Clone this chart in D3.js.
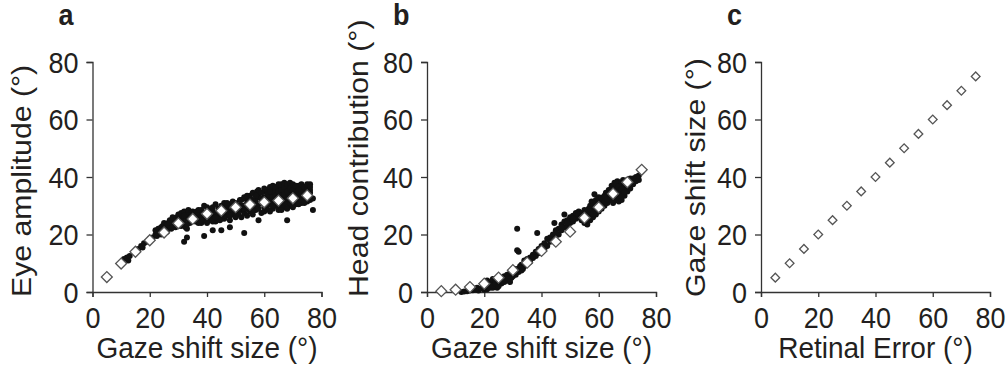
<!DOCTYPE html>
<html>
<head>
    <script src="https://d3js.org/d3.v7.min.js"></script>
    <style>
        body { margin: 0; background: #fff; }
        text { font-family: "Liberation Sans", Arial, sans-serif; fill: #231f20; }
    </style>
</head>

<body>
<div id="chart"></div>

<script>

    var width = 1007;
    var height = 368;

    var tickValues = [0, 20, 40, 60, 80];

    // panel a: eye amplitude vs gaze shift size
    var eyeDots = [
        [11,11.5],[12,12],[12.5,11],[13,12.5],[16,15],[17,16],[17.5,15.5],[18,17],[19,17.5],[20,18.5],
        [21,19],[22,20],[22,21.5],[22.5,19.5],[23,22],[23.5,21],[24,20],[24,22.5],[24.5,23],[25,21.5],[25,24],
        [26,21],[26,22.5],[26.5,24],[27,23],[27,25],[27.5,22],[28,24],[28,26],[28.5,25],[29,22.5],[29,23.5],[29.5,26],[30,24],[30,25.5],[30,27],
        [31,23],[31,25],[31,27.5],[31.5,26],[32,24],[32,28],[32,17.5],[32.5,22.5],[33,19],[33,22],[33,25.5],[33,27],[33.5,28.5],[34,24],[34,26],[34.5,27.5],[35,25],[35,28],
        [36,24.5],[36,26.5],[36.5,28],[37,25.5],[37,27],[38,24],[38,26],[38,28.5],[38.5,27],[39,19.5],[39,25],[39,30],[40,24],[40,26.5],[40,28],
        [41,25],[41,27],[41.5,29],[42,21.5],[42,26],[42,28],[43,24.5],[43,27.5],[43,30.5],[44,26],[44,29],[44.5,25],[45,21.5],[45,27],[45,30],
        [46,25.5],[46,28],[46,31],[47,26.5],[47,29.5],[48,22.5],[48,25],[48,28],[48,30.5],[49,27],[49,29.5],[50,26],[50,28.5],[50,31],
        [51,27],[51,30],[51.5,32],[52,26],[52,28.5],[53,20.5],[53,27.5],[53,30],[53.5,32.5],[54,26.5],[54,29],[55,28],[55,31],[55,33.5],
        [56,27],[56,30],[56,34.5],[57,28.5],[57,32],[57.5,35],[58,25],[58,29],[58,33],[58.5,34.5],[59,27.5],[59,31],[60,28],[60,30.5],[60,33],[60,35],
        [61,29],[61,32],[61,34.5],[62,28],[62,30.5],[62,33.5],[62.5,35.5],[63,29],[63,31.5],[63,34],[63.5,36],[64,30],[64,32.5],[64,35],[65,28.5],[65,31],[65,33.5],[65,36],
        [66,30],[66,32],[66,34.5],[66.5,36.5],[67,29.5],[67,33],[67,35.5],[67.5,37],[68,25],[68,31],[68,33.5],[68,36],[69,30],[69,32.5],[69,35],[69.5,37],[70,31],[70,34],[70,36.5],
        [71,30.5],[71,33],[71,35.5],[72,32],[72,34.5],[72,37],[73,31],[73,33.5],[73,36],[74,32.5],[74,35],[75,31.5],[75,34],[75,36.5],[76,33],[76,35.5],[76,37.5],[77,28.5],[77,32.5],
        [23,20.5],[25,22.5],[26,23.5],[27,24],[28,22.5],[29,25],[30,23],[31,24],[32,26.5],[33,23.5],[34,25],[35,26.5],[36,27.5],[37,24],[37,28.5],[38,25],[39,27.5],[40,25],[40,29.5],
        [41,26],[42,24.5],[42,29.5],[43,26],[44,27.5],[45,25.5],[45,28.5],[46,26.5],[46,29.5],[47,28],[47,31],[48,26.5],[49,28.5],[49,31.5],[50,27.5],[50,30],
        [51,28.5],[52,30],[52,32],[53,29],[53,33],[54,31],[54,33.5],[55,29.5],[55,32.5],[56,28.5],[56,32],[57,30],[57,33.5],[58,30.5],[58,35.5],[59,32.5],[59,34.5],[60,29.5],[60,36],
        [61,30.5],[61,33],[61,35.5],[62,32],[62,35],[62,36.5],[63,30],[63,33],[63,37],[64,31],[64,33.5],[64,36.5],[65,30],[65,32.5],[65,35],[65,37.5],
        [66,28.5],[66,31],[66,33.5],[66,35.5],[66,37.5],[67,31],[67,34],[67,36.5],[67,38],[68,29],[68,32.5],[68,35],[68,37.5],[69,31],[69,33.5],[69,36],[69,38],
        [70,29.5],[70,32.5],[70,35.5],[70,37.5],[71,32],[71,34.5],[71,37],[72,30.5],[72,33],[72,35.5],[73,32],[73,34.5],[73,37.5],[74,31],[74,34],[74,36.5],
        [75,33],[75,35.5],[75,37.5],[76,32],[76,34.5],[76,36.5]
    ];
    var eyeMeanX = [5, 10, 15, 20, 25, 30, 35, 40, 45, 50, 55, 60, 65, 70, 75];
    var eyeMeanY = [5.2, 9.9, 14, 18, 20.7, 23.9, 25.4, 27.2, 28.3, 29.5, 30.4, 31.2, 31.8, 32.6, 33.6];

    // panel b: head contribution vs gaze shift size
    var headDots = [
        [12,0],[13,0.2],[14,0.3],[15,0.5],[16,0.6],[17,0.8],[17.5,1.5],[18,0.5],[19,1.2],[19.5,2],[20,0.8],[20,2.5],
        [21,1],[21,2.5],[21,4],[21.5,3],[22,1.5],[22,3.5],[22.5,2],[23,1.5],[23,3],[23,4.5],[23.5,2.5],[24,2],[24,3.5],[24.5,1.5],[25,3],[25,4.5],
        [26,3],[26,5],[26.5,4],[27,3.5],[27,5.5],[28,4],[28,6],[28.5,5],[29,3.5],[29,6.5],[29.5,5],[30,5.5],[30,7.5],[30.5,6.5],
        [31,6],[31,8],[31.5,22],[31.5,14.5],[32,14],[32,7],[32.5,9],[33,7.5],[33,9.5],[33.5,8],[34,9],[34,11],[35,10],[35,11.5],
        [36,10.5],[36,12],[37,11.8],[37,13],[38,12.5],[38,14],[38.5,20.5],[39,13.5],[39,15],[40,14.5],[40,16],
        [41,15],[41,17],[42,16],[42,18.5],[43,17.5],[43,19],[44,18],[44,20],[44.5,24],[45,19.5],[45,21.5],
        [46,20],[46,22],[47,21.5],[47,23.5],[48,22.5],[48,27],[48,24.5],[49,23],[49,25],[50,24],[50,26],
        [51,24.5],[51,26.5],[52,25.5],[52,27.5],[53,26],[53,28],[54,25],[54,27.5],[55,24],[55,26],[55,28.5],
        [56,23.5],[56,26.5],[56.5,29],[57,25],[57,27.5],[57,30],[57.5,31.5],[58,26],[58,28.5],[58,31],[58.5,34],[59,27],[59,29.5],[59,32],[60,28],[60,30.5],[60,33],
        [61,29],[61,31.5],[62,30],[62,32.5],[62.5,34.5],[63,31],[63,33.5],[63.5,35.5],[64,32],[64,34.5],[64.5,37],[65,31],[65,33.5],[65,36],[65.5,38],
        [66,32],[66,34.5],[66,37],[66.5,38.5],[67,31.5],[67,33],[67,35.5],[67,38],[67.5,36.5],[68,32],[68,34.5],[68,37],[68.5,39],[69,33.5],[69,36],[69,38.5],[70,35],[70,37.5],[70,39],
        [71,36],[71,38.5],[72,37.5],[72,39.5],[73,38.5],[73,40],[74,39],[74,40.5],
        [20,1.5],[21,1.8],[22,2.5],[23,2.2],[24,2.8],[24,4.2],[25,2],[25,3.8],[26,4],[27,4.5],[28,5],[29,4.5],[30,6.5],[31,7],[32,8],[33,8.5],[34,10],[36,11.2],[37,12.2],
        [39,14.2],[41,16],[43,18.2],[45,20.5],[47,22.5],[49,24],[51,25.5],[53,27],[54,26.3],[55,27.2],[56,25],[56,28],[57,26.3],[57,28.8],[58,27.2],[58,29.8],
        [59,28.3],[59,30.8],[60,29.2],[60,31.8],[61,30.2],[61,32.8],[62,31.2],[62,33.5],[63,32.3],[63,34.5],[64,33.2],[64,35.5],[65,32.2],[65,34.7],[65,37],
        [66,33.2],[66,35.7],[66,38],[67,34.3],[67,36.8],[68,33.2],[68,35.7],[68,38.2],[69,34.7],[69,37.2],[70,36.2],[70,38.3],[71,37.2],[71,39.5],[72,38.5]
    ];
    var headMeanX = [5, 10, 15, 20, 25, 30, 35, 40, 45, 50, 55, 60, 65, 70, 75];
    var headMeanY = [0.3, 0.8, 1.7, 2.9, 5, 7.6, 10.2, 14.3, 17.5, 21, 25.8, 29.5, 34.2, 38.2, 42.5];

    // panel c: gaze shift size vs retinal error
    var gazeX = [5, 10, 15, 20, 25, 30, 35, 40, 45, 50, 55, 60, 65, 70, 75];
    var gazeY = [5, 10, 15, 20, 25, 30, 35, 40, 45, 50, 55, 60, 65, 70, 75];

    var panels = [
        { label: 'a', left: 92.5, xTitle: 'Gaze shift size (°)', yTitle: 'Eye amplitude (°)', yTitleX: 31,
          dots: eyeDots, meanX: eyeMeanX, meanY: eyeMeanY, diamond: 60 },
        { label: 'b', left: 427, xTitle: 'Gaze shift size (°)', yTitle: 'Head contribution (°)', yTitleX: 368,
          dots: headDots, meanX: headMeanX, meanY: headMeanY, diamond: 60 },
        { label: 'c', left: 761, xTitle: 'Retinal Error (°)', yTitle: 'Gaze shift size (°)', yTitleX: 705,
          dots: [], meanX: gazeX, meanY: gazeY, diamond: 38 }
    ];

    var plotTop = 62, plotW = 229, plotH = 230;
    var stretch = 1.08; // the original figure text is a bit taller than wide

    var svg = d3.select('#chart').append('svg')
        .attr('width', width)
        .attr('height', height);

    var diamondPath = d3.symbol().type(d3.symbolSquare);

    panels.forEach(function(p) {
        var xScale = d3.scaleLinear().domain([0, 80]).range([0, plotW]);
        var yScale = d3.scaleLinear().domain([0, 80]).range([plotH, 0]);

        var g = svg.append('g')
            .attr('transform', 'translate(' + p.left + ',' + plotTop + ')');

        var yAxis = g.append('g')
            .call(d3.axisLeft(yScale).tickValues(tickValues).tickSize(6).tickPadding(8));
        var xAxis = g.append('g')
            .attr('transform', 'translate(0,' + plotH + ')')
            .call(d3.axisBottom(xScale).tickValues(tickValues).tickSize(5).tickPadding(13));

        [xAxis, yAxis].forEach(function(ax) {
            ax.select('.domain').attr('stroke', '#333').attr('stroke-width', 1.3);
            ax.selectAll('.tick line').attr('stroke', '#333').attr('stroke-width', 1.3);
            ax.selectAll('.tick text')
                .attr('font-family', '"Liberation Sans", Arial, sans-serif')
                .attr('font-size', 27)
                .attr('fill', '#231f20');
        });

        xAxis.selectAll('.tick text')
            .attr('y', null).attr('dy', null)
            .attr('transform', 'translate(0,36) scale(1,' + stretch + ')');
        yAxis.selectAll('.tick text')
            .attr('dy', null)
            .attr('transform', 'translate(0,' + (0.358 * 27 * stretch) + ') scale(1,' + stretch + ')');

        g.selectAll('circle.dot')
            .data(p.dots)
            .enter()
            .append('circle')
            .attr('class', 'dot')
            .attr('r', 3)
            .attr('fill', '#111')
            .attr('cx', function(d) { return xScale(d[0]); })
            .attr('cy', function(d) { return yScale(d[1]); });

        g.selectAll('path.mean')
            .data(p.meanX)
            .enter()
            .append('path')
            .attr('class', 'mean')
            .attr('d', diamondPath.size(p.diamond)())
            .attr('fill', '#fff')
            .attr('stroke', '#555')
            .attr('stroke-width', 1.3)
            .attr('transform', function(d, i) {
                return 'translate(' + xScale(d) + ',' + yScale(p.meanY[i]) + ') rotate(45)';
            });

        svg.append('text')
            .attr('transform', 'translate(' + (p.left + plotW / 2) + ',358) scale(1,' + stretch + ')')
            .attr('text-anchor', 'middle')
            .attr('font-size', 28)
            .text(p.xTitle);

        svg.append('text')
            .attr('transform', 'translate(' + p.yTitleX + ',297) scale(1,' + stretch + ') rotate(-90)')
            .attr('text-anchor', 'start')
            .attr('font-size', 28)
            .text(p.yTitle);

        svg.append('text')
            .attr('transform', 'translate(' + (p.left - 34) + ',25) scale(1,' + stretch + ')')
            .attr('font-size', 27)
            .attr('font-weight', 'bold')
            .text(p.label);
    });

</script>
</body>
</html>
